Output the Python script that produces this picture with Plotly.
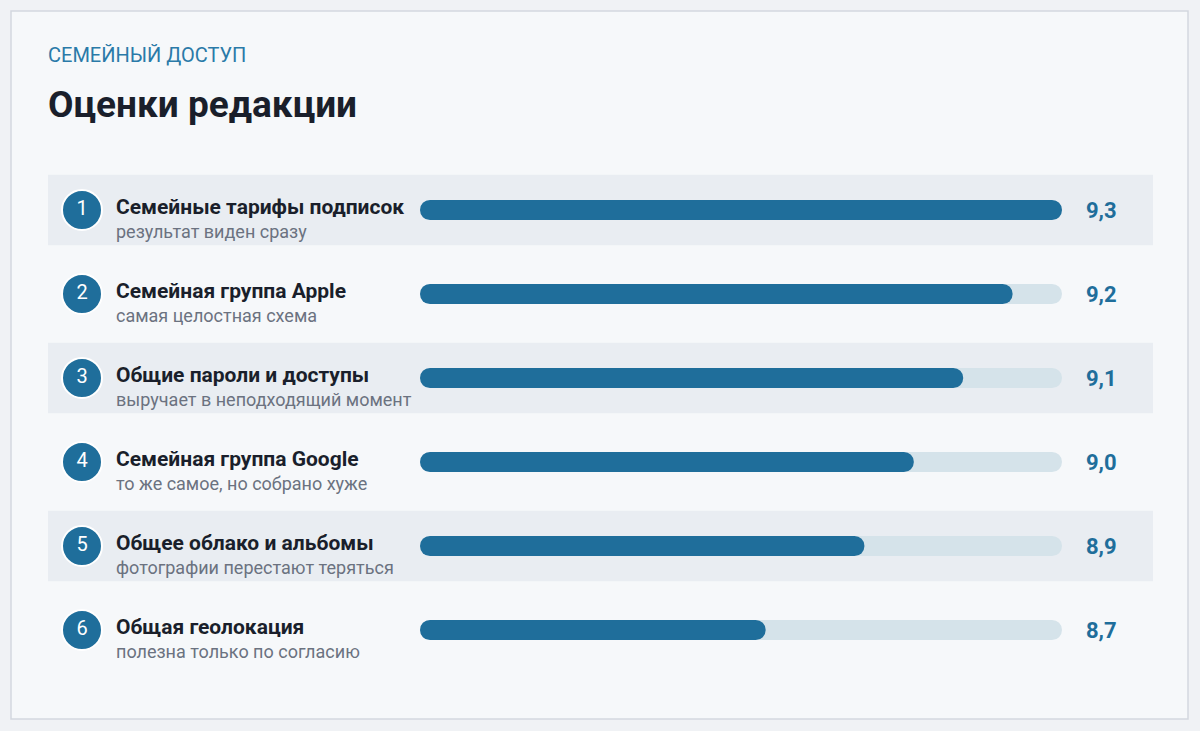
import plotly.graph_objects as go

ranks = [1, 2, 3, 4, 5, 6]
titles = ["Семейные тарифы подписок", "Семейная группа Apple", "Общие пароли и доступы",
          "Семейная группа Google", "Общее облако и альбомы", "Общая геолокация"]
notes = ["результат виден сразу", "самая целостная схема", "выручает в неподходящий момент",
         "то же самое, но собрано хуже", "фотографии перестают теряться", "полезна только по согласию"]
scores = [9.3, 9.2, 9.1, 9.0, 8.9, 8.7]
score_labels = ["9,3", "9,2", "9,1", "9,0", "8,9", "8,7"]
scale_min, scale_max = 8.0, 9.3

BLUE = "#1f6e9b"
TRACK = "#d5e3ea"
FONT = "Roboto"
ys = list(range(len(ranks)))

fig = go.Figure()

# background tracks and score bars on the bar axis
fig.add_trace(go.Bar(y=ys, x=[scale_max - scale_min] * len(ys), base=scale_min, orientation="h",
                     marker=dict(color=TRACK, cornerradius=10, line_width=0), width=0.24,
                     xaxis="x2", hoverinfo="skip"))
fig.add_trace(go.Bar(y=ys, x=[s - scale_min for s in scores], base=scale_min, orientation="h",
                     marker=dict(color=BLUE, cornerradius=10, line_width=0), width=0.24,
                     xaxis="x2", hoverinfo="skip"))

# rank circles
fig.add_trace(go.Scatter(x=[82] * len(ys), y=ys, mode="markers+text",
                         marker=dict(size=40, color=BLUE, line=dict(color="white", width=2)),
                         text=[str(r) for r in ranks],
                         textfont=dict(family=FONT, size=20, color="white"),
                         textposition="middle center", hoverinfo="skip"))

# card and row bands
shapes = [dict(type="rect", xref="paper", yref="paper", x0=11 / 1200, x1=1188 / 1200,
               y0=1 - 719 / 731, y1=1 - 11 / 731, fillcolor="#f6f8fa",
               line=dict(color="#d3d8df", width=1.5), layer="below")]
for i in ys:
    if i % 2 == 0:
        shapes.append(dict(type="rect", xref="x", yref="y", x0=48, x1=1153,
                           y0=i - 0.42, y1=i + 0.42, fillcolor="#e9edf2",
                           line_width=0, layer="below"))

ann = []
for i in ys:
    ann.append(dict(x=114, y=i - 0.04, xref="x", yref="y", text="<b>" + titles[i] + "</b>",
                    showarrow=False, xanchor="left", yanchor="middle",
                    font=dict(family=FONT, size=21, color="#1a1f2b")))
    ann.append(dict(x=114, y=i + 0.26, xref="x", yref="y", text=notes[i],
                    showarrow=False, xanchor="left", yanchor="middle",
                    font=dict(family=FONT, size=18, color="#6b7280")))
    ann.append(dict(x=1084, y=i, xref="x", yref="y", text="<b>" + score_labels[i] + "</b>",
                    showarrow=False, xanchor="left", yanchor="middle",
                    font=dict(family=FONT, size=22, color=BLUE)))
ann.append(dict(x=46, y=55, xref="x", yref="paper", text="СЕМЕЙНЫЙ ДОСТУП", showarrow=False,
                xanchor="left", yanchor="middle", font=dict(family=FONT, size=20, color="#2a7aa8")))
ann.append(dict(x=46, y=104, xref="x", yref="paper", text="<b>Оценки редакции</b>", showarrow=False,
                xanchor="left", yanchor="middle", font=dict(family=FONT, size=37, color="#1a1f2b")))
for a in ann[-2:]:
    a["y"] = 1 - a["y"] / 731

fig.update_layout(
    width=1200, height=731, margin=dict(l=0, r=0, t=0, b=0),
    paper_bgcolor="#f0f2f5", plot_bgcolor="rgba(0,0,0,0)",
    barmode="overlay", showlegend=False, shapes=shapes, annotations=ann,
    xaxis=dict(range=[0, 1200], domain=[0, 1], visible=False, fixedrange=True),
    xaxis2=dict(range=[scale_min, scale_max], domain=[420 / 1200, 1062 / 1200],
                anchor="y", visible=False),
    yaxis=dict(range=[5.5, -0.5], domain=[1 - 672 / 731, 1 - 168 / 731], visible=False),
)

fig.write_html("out.html", config={"displayModeBar": False},
               post_script="document.body.style.margin='0';")
